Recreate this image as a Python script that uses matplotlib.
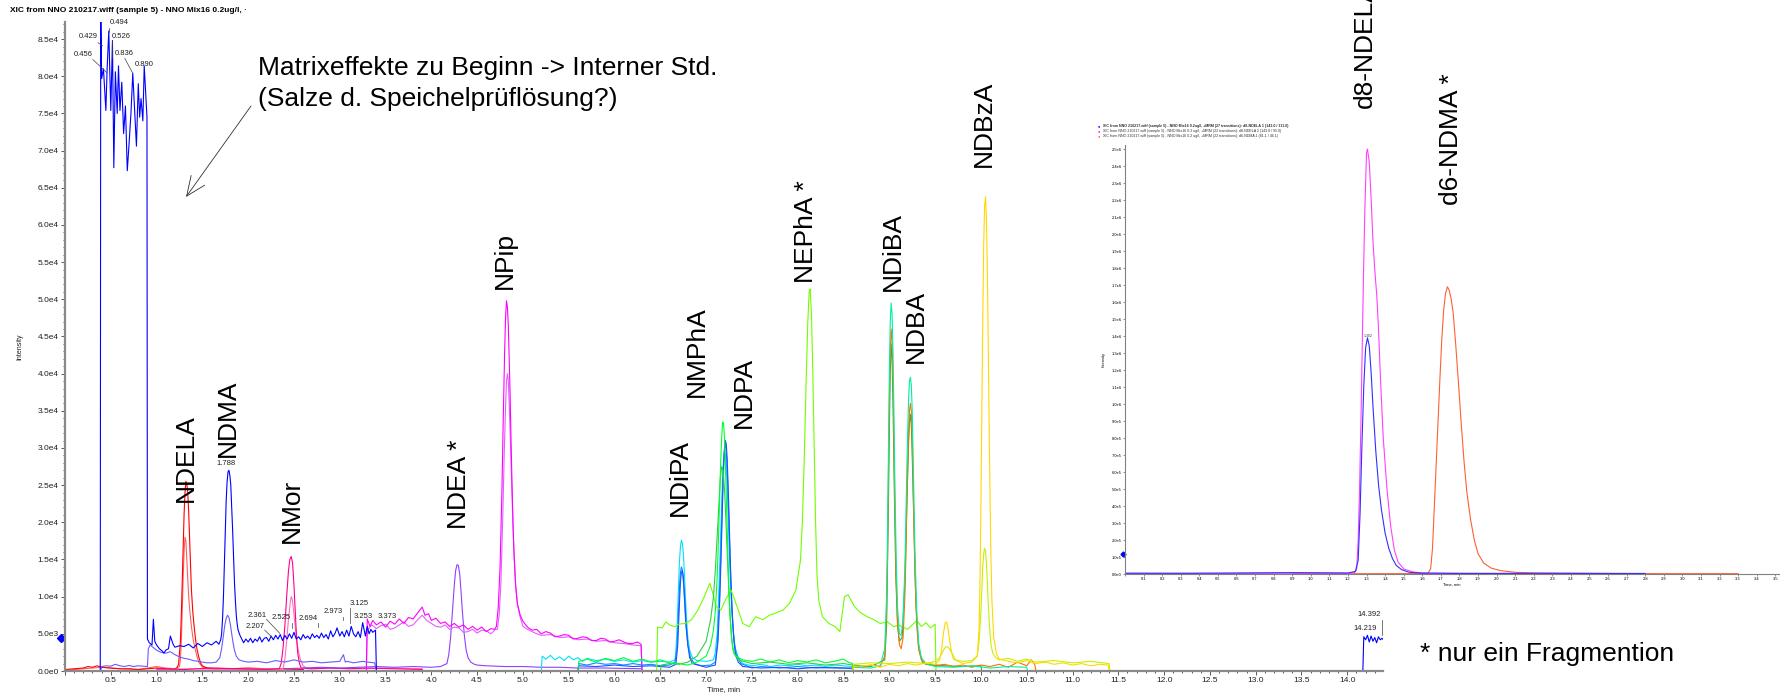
import matplotlib.pyplot as plt
import numpy as np
from matplotlib.ticker import MultipleLocator, FuncFormatter

W, H = 1789, 698
plt.rcParams['font.family'] = ['Liberation Sans', 'DejaVu Sans']

# ---- main chromatogram traces (time [min], intensity [cps]) ----
t_blue = [0.0, 0.385, 0.39, 0.40, 0.42, 0.446, 0.46, 0.478, 0.50, 0.518, 0.533, 0.55, 0.57,
          0.584, 0.60, 0.62, 0.64, 0.66, 0.68, 0.70, 0.72, 0.74, 0.76, 0.78, 0.80, 0.815,
          0.83, 0.85, 0.865, 0.88, 0.895, 0.90, 0.92, 0.95, 0.965, 0.98, 1.00, 1.03, 1.06,
          1.08, 1.10, 1.13, 1.15, 1.18, 1.20, 1.25, 1.30, 1.35, 1.40, 1.45, 1.50, 1.55,
          1.60, 1.65, 1.68, 1.70, 1.71, 1.72, 1.73, 1.74, 1.75, 1.76, 1.77, 1.78, 1.79, 1.80,
          1.81, 1.82, 1.83, 1.84, 1.85, 1.86, 1.87, 1.88, 1.89, 1.91, 1.93,
          1.95, 1.975, 2.0, 2.025, 2.05, 2.075, 2.1, 2.125, 2.15, 2.175, 2.2, 2.225,
          2.25, 2.275, 2.3, 2.325, 2.35, 2.375, 2.4, 2.425, 2.45, 2.475, 2.5, 2.525, 2.55,
          2.575, 2.6, 2.625, 2.65, 2.675, 2.7, 2.725, 2.75, 2.775, 2.8, 2.825, 2.85, 2.875,
          2.9, 2.925, 2.95, 2.97, 3.0, 3.025, 3.05, 3.075, 3.1, 3.125, 3.15, 3.175, 3.2,
          3.225, 3.25, 3.28, 3.3, 3.32, 3.34, 3.36, 3.39, 3.40, 14.17, 14.18, 14.2, 14.22,
          14.24, 14.26, 14.28, 14.3, 14.32, 14.34, 14.36, 14.38, 14.40]
i_blue = [0, 0, 90000, 79700, 81000, 75400, 81000, 86100, 75400, 84800, 67700, 80600, 75000,
          81400, 75400, 79200, 72300, 76000, 67300, 71000, 75000, 80400, 75400, 70600, 79000,
          74500, 77000, 74000, 81400, 78000, 74500, 4300, 3800, 3500, 6950, 4000, 3500, 3000,
          2700, 2400, 2800, 3000, 4700, 3600, 3200, 3400, 3300, 3600, 3100, 3700, 3300, 3800,
          3500, 4000, 3600, 4200, 5000, 7000, 10000, 14500, 19000, 23000, 25500, 26800, 27000, 26300,
          25000, 22000, 19000, 15500, 12000, 9500, 7500, 6300, 5500, 4800, 4300,
          3800, 4300, 3900, 4400, 3800, 4300, 4000, 4600, 3900, 4400, 4500, 4000,
          4700, 4200, 4800, 4300, 4900, 4100, 4800, 4300, 5000, 4400, 5200, 4300, 4600,
          4200, 4900, 4400, 4700, 4300, 5000, 4500, 4800, 4400, 5100, 4500, 4900, 4300,
          5400, 4600, 5100, 5800, 4700, 5300, 4600, 5500, 4700, 6000, 5000, 4600, 5300,
          4500, 6500, 4700, 6000, 5000, 5600, 5200, 5500, 0, 0, 4600, 4200, 4800,
          3900, 4700, 4000, 4500, 3800, 4600, 4200, 4400, 4100]

t_violet = [0.0, 0.39, 0.40, 0.45, 0.5, 0.55, 0.6, 0.65, 0.7, 0.75, 0.8, 0.85, 0.9, 0.91, 0.93,
            0.96, 1.0, 1.05, 1.1, 1.15, 1.2, 1.25, 1.3, 1.35, 1.4, 1.45, 1.5, 1.55, 1.6, 1.65,
            1.69, 1.71, 1.73, 1.745, 1.76, 1.775, 1.79, 1.805, 1.82, 1.835, 1.85, 1.87, 1.9, 1.95,
            2.0, 2.1, 2.2, 2.3, 2.4, 2.5, 2.6, 2.7, 2.8, 2.9, 3.0, 3.04, 3.06, 3.08, 3.15, 3.25,
            3.3, 3.38, 3.40]
i_violet = [0, 0, 600, 700, 650, 900, 700, 600, 750, 600, 700, 650, 600, 3000, 3500,
            3200, 2800, 2500, 2400, 2600, 2200, 1900, 1700, 1600, 1400, 1300, 1200, 1100, 1100, 1200,
            1800, 3000, 4800, 6200, 7100, 7500, 7200, 6300, 5000, 3800, 2800, 2000, 1500, 1300,
            1200, 1300, 1100, 1400, 1200, 1500, 1200, 1300, 1100, 1200, 1300, 2200, 1200, 1300, 1100, 1300,
            1200, 1100, 0]

t_red = [0.0, 0.1, 0.2, 0.25, 0.3, 0.35, 0.4, 0.5, 0.6, 0.7, 0.8, 0.9, 1.0, 1.1, 1.2, 1.22,
         1.24, 1.26, 1.27, 1.28, 1.29, 1.30, 1.31, 1.32, 1.33, 1.34, 1.35, 1.36, 1.37, 1.38,
         1.395, 1.41, 1.425, 1.44, 1.46, 1.48, 1.5, 1.55, 1.6, 1.8, 2.0, 2.2, 2.4, 2.6]
i_red = [200, 300, 400, 600, 500, 700, 500, 400, 300, 300, 200, 300, 400, 300, 300, 400,
         900, 4000, 7500, 12000, 16500, 21000, 24000, 25500, 25200, 24000, 21500, 18000, 14500, 11000,
         8000, 6000, 4300, 3000, 1900, 1100, 700, 400, 300, 300, 400, 300, 300, 200]

t_red2 = [0.0, 0.2, 0.4, 0.6, 0.8, 1.0, 1.1, 1.2, 1.25, 1.26, 1.27, 1.28, 1.29, 1.30, 1.31,
          1.32, 1.33, 1.34, 1.35, 1.365, 1.38, 1.40, 1.42, 1.44, 1.46, 1.5, 1.6, 1.8, 2.0, 2.3, 2.6]
i_red2 = [100, 300, 500, 300, 200, 600, 400, 300, 600, 1500, 4000, 8000, 12500, 16000, 18000,
          17500, 15000, 12500, 10000, 7800, 6000, 4200, 3000, 2000, 1200, 500, 400, 300, 200, 300, 200]

t_nmor = [1.0, 1.3, 1.6, 1.9, 2.2, 2.34, 2.36, 2.38, 2.40, 2.42, 2.44, 2.455, 2.47, 2.485,
          2.50, 2.51, 2.52, 2.53, 2.54, 2.56, 2.58, 2.7, 2.9, 3.1, 3.3, 3.6, 3.9]
i_nmor = [300, 200, 400, 300, 200, 300, 1000, 3000, 6000, 10000, 13500, 15000, 15400, 14500,
          11500, 9000, 6500, 4200, 2500, 1000, 400, 300, 400, 300, 400, 300, 200]

t_nmor2 = [1.0, 1.4, 1.8, 2.2, 2.38, 2.40, 2.42, 2.44, 2.46, 2.47, 2.48, 2.49, 2.50, 2.52, 2.54,
           2.56, 2.58, 2.60, 2.65, 2.9, 3.2, 3.5, 3.9]
i_nmor2 = [200, 300, 200, 300, 300, 1500, 4000, 7000, 9300, 10000, 9700, 8800, 7600, 5200, 3300,
           2000, 1200, 700, 300, 400, 300, 400, 300]

t_ndea = [2.4, 2.6, 2.8, 3.0, 3.2, 3.4, 3.6, 3.8, 4.0, 4.1, 4.17, 4.19, 4.21, 4.23, 4.25,
          4.265, 4.28, 4.295, 4.31, 4.325, 4.34, 4.36, 4.38, 4.40, 4.43, 4.47, 4.5, 4.6, 4.8,
          5.0, 5.2, 5.4, 5.6, 5.9, 6.3]
i_ndea = [300, 400, 500, 400, 500, 600, 500, 600, 500, 600, 1000, 2200, 4500, 8000, 11500,
          13500, 14300, 14200, 13000, 10500, 7800, 4800, 2800, 1800, 1200, 900, 800, 700, 600,
          600, 500, 500, 400, 400, 300]

t_npip = [3.29, 3.30, 3.33, 3.36, 3.40, 3.45, 3.5, 3.55, 3.6, 3.65, 3.7, 3.75, 3.8, 3.85, 3.9,
          3.93, 3.97, 4.0, 4.05, 4.1, 4.15, 4.2, 4.25, 4.3, 4.35, 4.4, 4.45, 4.5, 4.55, 4.6,
          4.65, 4.69, 4.71, 4.73, 4.75, 4.77, 4.785, 4.80, 4.81, 4.82, 4.83, 4.84, 4.85, 4.86,
          4.87, 4.88, 4.89, 4.90, 4.92, 4.94, 4.97, 5.0, 5.03, 5.06, 5.1, 5.15, 5.2, 5.25,
          5.3, 5.35, 5.4, 5.45, 5.5, 5.55, 5.6, 5.65, 5.7, 5.75, 5.8, 5.85, 5.9, 5.95, 6.0,
          6.05, 6.1, 6.15, 6.2, 6.25, 6.29, 6.30]
i_npip = [0, 7000, 6000, 6800, 6200, 6600, 5900, 6700, 6300, 7000, 6400, 7200, 7000, 7800, 8600,
          7500, 7700, 6800, 7100, 6400, 6600, 6000, 6400, 5900, 6200, 5600, 6000, 5500, 5900, 5300,
          5700, 5600, 6000, 8500, 14000, 24000, 34000, 43000, 47500, 49800, 49000, 46500, 42000, 37000,
          31000, 25500, 20500, 16500, 11500, 9000, 7500, 6700, 6200, 5800, 5500, 5600, 5000, 5300,
          5100, 4600, 4700, 4900, 4800, 4300, 4400, 4600, 4500, 4100, 4100, 4400, 4300, 3900, 4000,
          4200, 3900, 3700, 3700, 3900, 3600, 0]

t_npip2 = [3.29, 3.30, 3.35, 3.4, 3.45, 3.5, 3.55, 3.6, 3.65, 3.7, 3.75, 3.8, 3.85, 3.9, 3.95,
           4.0, 4.05, 4.1, 4.15, 4.2, 4.25, 4.3, 4.35, 4.4, 4.45, 4.5, 4.55, 4.6, 4.65, 4.7,
           4.72, 4.74, 4.76, 4.78, 4.795, 4.81, 4.82, 4.83, 4.84, 4.85, 4.86, 4.875, 4.89, 4.905,
           4.92, 4.94, 4.97, 5.0, 5.05, 5.1, 5.15, 5.2, 5.3, 5.4, 5.5, 5.6, 5.7, 5.8, 5.9, 6.0,
           6.1, 6.2, 6.29, 6.30]
i_npip2 = [0, 5500, 6200, 5700, 6100, 6300, 5600, 5800, 6200, 6600, 6000, 6200, 6900, 7500, 6800,
           6400, 6000, 5900, 6200, 5600, 5900, 5800, 5200, 5300, 5600, 5100, 5500, 5400, 5000, 5600,
           5600, 7500, 12000, 21000, 29000, 35500, 39000, 40000, 39000, 36000, 32000, 26000, 20000, 15000,
           11500, 9000, 7200, 6000, 5600, 5300, 5000, 4800, 4900, 4500, 4600, 4200, 4300, 4000, 4100,
           3800, 3700, 3500, 3400, 0]

t_cyan = [5.20, 5.21, 5.25, 5.3, 5.35, 5.4, 5.45, 5.5, 5.55, 5.6, 5.65, 5.7, 5.8, 5.9, 6.0, 6.1,
          6.2, 6.3, 6.4, 6.5, 6.6, 6.66, 6.67, 6.68, 6.69, 6.70, 6.71, 6.72, 6.73, 6.74, 6.75,
          6.76, 6.77, 6.78, 6.79, 6.80, 6.82, 6.85, 6.9, 7.0, 7.08, 7.10, 7.12, 7.13, 7.14, 7.15,
          7.16, 7.17, 7.18, 7.19, 7.20, 7.21, 7.22, 7.23, 7.24, 7.25, 7.26, 7.27, 7.28, 7.30,
          7.32, 7.35, 7.4, 7.5, 7.6, 7.7, 7.8, 7.9, 8.0, 8.1, 8.2, 8.3, 8.4, 8.5, 8.6, 8.61]
i_cyan = [0, 2000, 1600, 2100, 1500, 1900, 1400, 2000, 1500, 1800, 1300, 1700, 1400, 1600, 1300, 1500,
          1200, 1400, 1200, 1300, 1200, 1500, 2800, 5000, 8500, 12000, 15000, 16800, 17600, 17200, 16000,
          13800, 11000, 8500, 6200, 4500, 2800, 1800, 1400, 1300, 1500, 2500, 5000, 8000, 11500, 15000,
          19000, 23000, 26000, 28500, 29500, 29200, 27500, 24500, 21000, 17000, 13500, 10500, 8000, 4800,
          3000, 1800, 1000, 700, 900, 600, 800, 700, 900, 700, 800, 600, 800, 700, 600, 0]

t_azure = [5.60, 5.61, 5.7, 5.8, 5.9, 6.0, 6.1, 6.2, 6.3, 6.4, 6.5, 6.6, 6.66, 6.68, 6.69,
           6.70, 6.71, 6.72, 6.73, 6.74, 6.75, 6.76, 6.77, 6.78, 6.80, 6.83, 6.87, 6.95, 7.05,
           7.1, 7.12, 7.14, 7.15, 7.16, 7.17, 7.18, 7.19, 7.20, 7.21, 7.22, 7.23, 7.24, 7.25,
           7.26, 7.27, 7.29, 7.31, 7.33, 7.38, 7.5, 7.6, 7.8, 8.0, 8.2, 8.4, 8.6, 8.61]
i_azure = [0, 1000, 800, 1100, 900, 1000, 800, 1000, 800, 900, 700, 800, 1200, 3000, 5500,
           8500, 11500, 13300, 14000, 13600, 12300, 10300, 8000, 6000, 3500, 1800, 1000, 700, 800,
           1200, 3500, 8000, 11500, 15500, 20000, 24500, 28000, 30000, 30500, 29500, 27000, 23500, 19500,
           15500, 12000, 6500, 3500, 2200, 1000, 400, 600, 400, 600, 400, 500, 300, 0]

t_blue2 = [5.60, 5.61, 5.8, 6.0, 6.2, 6.4, 6.6, 6.67, 6.69, 6.70, 6.71, 6.72, 6.73, 6.74, 6.75,
           6.76, 6.77, 6.78, 6.80, 6.82, 6.85, 7.0, 7.1, 7.13, 7.15, 7.16, 7.17, 7.18, 7.19,
           7.20, 7.21, 7.22, 7.23, 7.24, 7.25, 7.26, 7.27, 7.28, 7.30, 7.32, 7.35, 7.4, 7.6,
           7.8, 8.0, 8.2, 8.4, 8.6, 8.61]
i_blue2 = [0, 700, 600, 800, 600, 700, 500, 900, 3500, 6500, 9500, 12000, 13300, 13500, 12800,
           11000, 8800, 6500, 3500, 1800, 1000, 500, 800, 4000, 10000, 14000, 18500, 23000, 27000,
           29500, 31000, 30500, 28500, 25000, 21000, 16500, 12500, 9000, 4500, 2200, 1200, 600, 400,
           500, 300, 500, 400, 400, 0]

t_green = [5.60, 5.61, 5.7, 5.8, 5.9, 6.0, 6.1, 6.2, 6.3, 6.4, 6.5, 6.6, 6.7, 6.8, 6.9, 7.0,
           7.05, 7.08, 7.10, 7.12, 7.13, 7.14, 7.15, 7.16, 7.17, 7.18, 7.19, 7.20, 7.21, 7.22,
           7.23, 7.24, 7.25, 7.27, 7.29, 7.32, 7.4, 7.5, 7.6, 7.7, 7.8, 7.9, 8.0, 8.1, 8.2,
           8.3, 8.4, 8.5, 8.55, 8.6, 8.61]
i_green = [0, 1300, 1600, 1200, 1700, 1400, 1800, 1300, 1600, 1200, 1500, 1100, 1000, 800, 1200, 2000,
           3500, 5500, 8000, 12500, 16000, 20000, 24500, 28500, 31500, 33500, 33300, 31500, 28000, 23500,
           19000, 14500, 10500, 5500, 3000, 2000, 1500, 1300, 1600, 1200, 1500, 1100, 1400, 1200, 1500,
           1100, 1300, 1600, 1200, 1000, 0]

t_green2 = [6.50, 6.51, 6.6, 6.7, 6.8, 6.9, 7.0, 7.05, 7.08, 7.10, 7.12, 7.14, 7.155, 7.17,
            7.185, 7.20, 7.215, 7.23, 7.245, 7.26, 7.28, 7.3, 7.35, 7.5, 7.7, 7.9, 8.1, 8.3,
            8.5, 8.6, 8.61]
i_green2 = [0, 800, 1000, 900, 1200, 2000, 4000, 7000, 10000, 13500, 18000, 22500, 26000, 27500,
            27000, 24500, 20500, 16000, 11500, 7500, 4200, 2500, 1500, 1000, 1200, 900, 1100, 800,
            1000, 800, 0]

t_nepha = [6.46, 6.47, 6.52, 6.56, 6.6, 6.66, 6.7, 6.77, 6.84, 6.91, 6.98, 7.04, 7.07, 7.11,
           7.16, 7.21, 7.27, 7.3, 7.35, 7.4, 7.47, 7.54, 7.62, 7.69, 7.76, 7.84, 7.91, 7.98,
           8.03, 8.05, 8.07, 8.09, 8.11, 8.125, 8.135, 8.15, 8.165, 8.18, 8.195, 8.21, 8.23,
           8.27, 8.34, 8.41, 8.46, 8.51, 8.55, 8.62, 8.69, 8.76, 8.83, 8.9, 8.98, 9.05, 9.1,
           9.2, 9.3, 9.35, 9.4, 9.45, 9.5, 9.51]
i_nepha = [0, 5900, 5800, 6600, 6200, 5950, 6300, 6400, 6900, 8200, 10000, 11800, 10600, 8650,
           8200, 9540, 10900, 10000, 8200, 6400, 5950, 7300, 6900, 7500, 7800, 8200, 9100, 10900,
           14900, 20000, 28000, 38000, 47000, 51000, 51400, 48000, 40000, 30000, 20000, 13000, 9500,
           7300, 6400, 5950, 5300, 10000, 10250, 8650, 7800, 7300, 6900, 6400, 6600, 5950, 6200,
           5600, 6800, 6000, 6500, 5800, 6300, 0]

t_orange = [8.60, 8.61, 8.7, 8.8, 8.9, 8.95, 8.97, 8.98, 8.99, 9.0, 9.01, 9.02, 9.03, 9.04,
            9.05, 9.06, 9.075, 9.09, 9.11, 9.13, 9.15, 9.17, 9.18, 9.19, 9.20, 9.21, 9.22, 9.23,
            9.24, 9.25, 9.26, 9.27, 9.28, 9.30, 9.32, 9.35, 9.4, 9.5, 9.6, 9.7, 9.8, 9.9, 10.0,
            10.1, 10.2, 10.3, 10.4, 10.5, 10.55, 10.59, 10.6]
i_orange = [0, 700, 500, 800, 600, 2000, 8000, 15000, 26000, 36000, 43000, 46000, 44500, 39000,
            31000, 22000, 12000, 6500, 3500, 3000, 4500, 10000, 15000, 21000, 27000, 32000, 35000, 36000,
            35000, 31000, 25000, 18500, 13000, 6000, 3000, 1500, 900, 700, 900, 600, 800, 500, 800,
            600, 900, 500, 1200, 700, 1500, 800, 0]

t_teal = [8.60, 8.61, 8.8, 8.9, 8.95, 8.97, 8.98, 8.99, 9.0, 9.01, 9.02, 9.03, 9.04, 9.05,
          9.06, 9.075, 9.09, 9.11, 9.13, 9.15, 9.17, 9.18, 9.19, 9.20, 9.21, 9.22, 9.23, 9.24,
          9.25, 9.26, 9.27, 9.28, 9.30, 9.32, 9.35, 9.4, 9.5, 9.7, 9.9, 10.1, 10.3, 10.5, 10.51]
i_teal = [0, 500, 400, 700, 3000, 10000, 18000, 29000, 40000, 47000, 49500, 48000, 43000, 35000,
          26000, 15000, 8500, 5000, 4800, 7000, 14000, 20000, 26500, 32000, 36500, 39000, 39500, 38500,
          35000, 29000, 22500, 16000, 8000, 3800, 1800, 1000, 600, 500, 700, 400, 600, 500, 0]

t_dkgreen = [8.60, 8.61, 8.8, 8.95, 8.97, 8.99, 9.0, 9.01, 9.02, 9.03, 9.04, 9.055, 9.07, 9.09,
             9.11, 9.14, 9.17, 9.19, 9.21, 9.22, 9.23, 9.24, 9.25, 9.27, 9.29, 9.32, 9.36, 9.4,
             9.6, 9.8, 10.0, 10.01]
i_dkgreen = [0, 800, 600, 1500, 6000, 22000, 32000, 40000, 44000, 42000, 36000, 24000, 13000, 6000,
             4000, 4500, 12000, 22000, 30500, 33500, 34500, 33000, 29000, 19000, 9000, 3000, 1200, 900,
             700, 600, 700, 0]

t_yellow = [8.60, 8.61, 8.8, 8.9, 9.0, 9.1, 9.2, 9.3, 9.4, 9.5, 9.55, 9.57, 9.59, 9.61, 9.625,
            9.64, 9.66, 9.68, 9.7, 9.8, 9.9, 9.96, 9.98, 9.99, 10.0, 10.01, 10.02, 10.03, 10.04,
            10.05, 10.06, 10.07, 10.08, 10.09, 10.10, 10.11, 10.12, 10.14, 10.17, 10.2, 10.3,
            10.4, 10.5, 10.6, 10.7, 10.8, 10.9, 11.0, 11.1, 11.2, 11.3, 11.39, 11.4]
i_yellow = [0, 600, 800, 500, 900, 700, 1000, 800, 1100, 900, 1500, 2800, 5000, 6500, 6600,
            5800, 4000, 2500, 1600, 1000, 1200, 2000, 5500, 12000, 22000, 35000, 47000, 57000, 62500,
            63800, 61000, 54000, 44000, 33000, 23000, 15000, 9500, 4500, 2300, 1600, 1300,
            1100, 1400, 1000, 1200, 900, 1100, 800, 1000, 700, 900, 800, 0]

t_ygreen = [8.60, 8.61, 8.8, 9.0, 9.2, 9.4, 9.5, 9.55, 9.58, 9.6, 9.62, 9.64, 9.66, 9.68, 9.72,
            9.8, 9.9, 9.96, 9.98, 10.0, 10.01, 10.02, 10.03, 10.04, 10.05, 10.06, 10.07, 10.08,
            10.095, 10.11, 10.13, 10.16, 10.2, 10.3, 10.4, 10.5, 10.6, 10.8, 11.0, 11.2, 11.4,
            11.41]
i_ygreen = [0, 900, 1100, 1000, 1200, 1000, 1300, 1800, 2500, 3000, 3300, 3200, 2900, 2500, 1500,
            1300, 1400, 2000, 4000, 8000, 11000, 14000, 15800, 16500, 16200, 14500, 12000, 9000,
            5800, 3500, 2400, 1800, 1500, 1700, 1300, 1600, 1200, 1400, 1100, 1300, 1000, 0]

main_traces = [
    (t_red2, i_red2, '#ff6060'), (t_red, i_red, '#ff0000'),
    (t_nmor2, i_nmor2, '#ff70b8'), (t_nmor, i_nmor, '#ff0090'),
    (t_ndea, i_ndea, '#9040ff'),
    (t_npip2, i_npip2, '#e060ff'), (t_npip, i_npip, '#ff00ff'),
    (t_cyan, i_cyan, '#00e0ff'), (t_azure, i_azure, '#0090ff'), (t_blue2, i_blue2, '#2050ff'),
    (t_nepha, i_nepha, '#70ff00'), (t_green2, i_green2, '#30d040'), (t_green, i_green, '#00ff30'),
    (t_dkgreen, i_dkgreen, '#20b040'), (t_orange, i_orange, '#ff7000'), (t_teal, i_teal, '#00f0a0'),
    (t_ygreen, i_ygreen, '#c8f000'), (t_yellow, i_yellow, '#ffd800'),
    (t_violet, i_violet, '#6a5cff'), (t_blue, i_blue, '#0000ff'),
]

# peak labels (text, time, intensity)
peak_labels = [('0.494', 0.587, 87230), ('0.429', 0.249, 85340), ('0.526', 0.61, 85340),
               ('0.456', 0.194, 82920), ('0.836', 0.642, 83060), ('0.890', 0.86, 81580),
               ('1.788', 1.755, 27960), ('2.361', 2.096, 7530), ('2.207', 2.073, 6050),
               ('2.525', 2.356, 7260), ('2.694', 2.66, 7120), ('2.973', 2.924, 8060),
               ('3.125', 3.207, 9140), ('3.253', 3.251, 7390), ('3.373', 3.513, 7390),
               ('14.392', 14.234, 7660), ('14.219', 14.19, 5780)]
leaders = [((0.36, 0.41), (84500, 84100)), ((0.304, 0.456), (82250, 80500)),
           ((0.653, 0.74), (82400, 80400)), ((0.478, 0.478), (86550, 86000)),
           ((0.514, 0.514), (84900, 82400)), ((2.20, 2.345), (6950, 5070)),
           ((2.18, 2.255), (5500, 4610)), ((2.473, 2.473), (6400, 5740)),
           ((2.763, 2.763), (6490, 5950)), ((3.036, 3.036), (7300, 6850)),
           ((3.117, 3.117), (8430, 6410)), ((14.38, 14.38), (6850, 4840))]

# compound names: (text, x px, bottom y px)
compounds = [('NDELA', 186, 502), ('NDMA', 228, 457), ('NMor', 292, 543), ('NDEA *', 459, 529),
             ('NPip', 505, 289), ('NDiPA', 680, 516), ('NMPhA', 697, 397), ('NDPA', 744, 428),
             ('NEPhA *', 806, 283), ('NDiBA', 893, 291), ('NDBA', 916, 363), ('NDBzA', 984, 167),
             ('d8-NDELA', 1365, 108), ('d6-NDMA *', 1451, 205)]

# ---- inset (internal standards) ----
t_d8a = [0, 0.3, 0.6, 0.9, 1.2, 1.24, 1.255, 1.265, 1.275, 1.285, 1.295, 1.305, 1.315, 1.325,
         1.335, 1.35, 1.365, 1.38, 1.40, 1.42, 1.44, 1.46, 1.49, 1.53, 1.6, 1.8, 2.2, 2.6, 2.8]
i_d8a = [5000, 4000, 6000, 8000, 6000, 15000, 80000, 350000, 750000, 1100000, 1330000, 1390000,
         1340000, 1180000, 980000, 720000, 520000, 380000, 240000, 150000, 90000, 50000, 25000,
         10000, 5000, 3000, 4000, 3000, 3000]
t_d8b = [0, 0.3, 0.6, 0.9, 1.2, 1.235, 1.247, 1.255, 1.262, 1.27, 1.277, 1.284, 1.291, 1.30,
         1.305, 1.315, 1.325, 1.335, 1.345, 1.355, 1.364, 1.375, 1.39, 1.41, 1.43, 1.45, 1.47,
         1.50, 1.55, 1.6, 2.0, 2.4, 2.8]
i_d8b = [3000, 4000, 3000, 5000, 4000, 8000, 27000, 200000, 480000, 900000, 1350000, 1780000,
         2150000, 2480000, 2500000, 2420000, 2200000, 1950000, 1780000, 1640000, 1450000, 1150000,
         800000, 500000, 280000, 140000, 70000, 30000, 12000, 6000, 3000, 4000, 3000]
t_d6 = [0.9, 1.2, 1.5, 1.6, 1.63, 1.645, 1.655, 1.665, 1.675, 1.685, 1.695, 1.705, 1.715, 1.725,
        1.735, 1.745, 1.755, 1.766, 1.78, 1.795, 1.81, 1.825, 1.84, 1.86, 1.88, 1.90, 1.93, 1.97,
        2.02, 2.1, 2.2, 2.5, 2.9, 3.3]
i_d6 = [2000, 1500, 2000, 3000, 5000, 30000, 150000, 400000, 650000, 900000, 1150000, 1380000,
        1550000, 1650000, 1690000, 1670000, 1620000, 1540000, 1350000, 1120000, 880000, 660000,
        480000, 320000, 200000, 120000, 65000, 35000, 20000, 10000, 6000, 3000, 2000, 2000]
inset_legend = [
    ('#0000ff', 'XIC from NNO 210217.wiff (sample 5) - NNO Mix16 0.2ug/l, +MRM (27 transitions): d8-NDELA 1 (143.0 / 111.0)'),
    ('#ff00ff', 'XIC from NNO 210217.wiff (sample 5) - NNO Mix16 0.2 ug/l, +MRM (22 transitions): d8-NDELA 2 (143.0 / 95.0)'),
    ('#ff6030', 'XIC from NNO 210217.wiff (sample 5) - NNO Mix16 0.2 ug/l, +MRM (22 transitions): d6-NDMA 1 (81.1 / 46.1)'),
]


def fx(x):
    return x / W


def fy(y):
    return 1 - y / H


def sci(v, pos):
    if abs(v) < 1e-9:
        return '0.0e0'
    e = int(np.floor(np.log10(abs(v)) + 1e-9))
    return f'{v / 10 ** e:.1f}e{e}'


fig = plt.figure(figsize=(W / 100, H / 100), dpi=100)
fig.patch.set_facecolor('white')

# main axes
ax = fig.add_axes([fx(65), fy(671), (1383 - 65) / W, (671 - 22) / H])
for t, i, c in main_traces:
    ax.plot(t, i, color=c, lw=0.8)
ax.set_xlim(0, 14.39)
ax.set_ylim(0, 87300)
for s in ['top', 'right']:
    ax.spines[s].set_visible(False)
for s in ['left', 'bottom']:
    ax.spines[s].set_color('#8a8a8a')
    ax.spines[s].set_linewidth(1.6)
ax.xaxis.set_major_locator(MultipleLocator(0.5))
ax.xaxis.set_minor_locator(MultipleLocator(0.1))
ax.yaxis.set_major_locator(MultipleLocator(5000))
ax.yaxis.set_minor_locator(MultipleLocator(1000))
ax.xaxis.set_major_formatter(FuncFormatter(lambda v, p: '' if v < 0.01 else f'{v:.1f}'))
ax.yaxis.set_major_formatter(FuncFormatter(sci))
ax.tick_params(which='major', length=3, width=0.6, color='#404040', labelsize=6,
               labelcolor='#202020', pad=1.5)
ax.tick_params(which='minor', length=1.5, width=0.6, color='#404040')
ax.set_xlabel('Time, min', fontsize=5.5, labelpad=1, color='#202020')
ax.set_ylabel('Intensity', fontsize=5, labelpad=10, color='#202020')
ax.plot([-0.04], [4400], marker='D', ms=4, color='#0000ff', clip_on=False)

for txt, t, v in peak_labels:
    ax.text(t, v, txt, fontsize=5.5, ha='center', va='center', color='#202020', clip_on=False)
for xs, ys in leaders:
    ax.plot(xs, ys, color='#404040', lw=0.5, clip_on=False)

fig.text(fx(10), fy(10), 'XIC from NNO 210217.wiff (sample 5) - NNO Mix16 0.2ug/l, \u00b7',
         fontsize=6, fontweight='bold', ha='left', va='center')

# inset axes
ax2 = fig.add_axes([fx(1125), fy(574), (1779 - 1125) / W, (574 - 145) / H])
ax2.plot(t_d6, i_d6, color='#ff6030', lw=0.8)
ax2.plot(t_d8b, i_d8b, color='#ff40ff', lw=0.8)
ax2.plot(t_d8a, i_d8a, color='#3030ff', lw=0.8)
ax2.set_xlim(0, 3.52)
ax2.set_ylim(0, 2.524e6)
for s in ['top', 'right']:
    ax2.spines[s].set_visible(False)
for s in ['left', 'bottom']:
    ax2.spines[s].set_color('#808080')
    ax2.spines[s].set_linewidth(0.8)
ax2.xaxis.set_major_locator(MultipleLocator(0.1))
ax2.yaxis.set_major_locator(MultipleLocator(1e5))
ax2.xaxis.set_major_formatter(FuncFormatter(lambda v, p: '' if v < 0.01 else f'{v:.1f}'))
ax2.yaxis.set_major_formatter(FuncFormatter(sci))
ax2.tick_params(length=1.5, width=0.4, color='#404040', labelsize=2.9, pad=1)
ax2.set_xlabel('Time, min', fontsize=2.9, labelpad=1)
ax2.set_ylabel('Intensity', fontsize=2.9, labelpad=4)
ax2.text(1.308, 1.39e6, '1.302', fontsize=2.6, ha='center', va='bottom', color='#404040')
ax2.plot([-0.01], [1.2e5], marker='D', ms=2.5, color='#0000ff', clip_on=False)
for k, (c, txt) in enumerate(inset_legend):
    yy = 126 + k * 5
    fig.text(fx(1099), fy(yy), '\u25cf', fontsize=2.8, color=c, ha='center', va='center')
    fig.text(fx(1103), fy(yy), txt, fontsize=2.6, ha='left', va='center',
             fontweight='bold' if k == 0 else 'normal', color='#303030')

# big annotation texts
for txt, x, y in compounds:
    fig.text(fx(x), fy(y), txt, rotation=90, fontsize=19, ha='center', va='bottom')

fig.text(fx(258), fy(75), 'Matrixeffekte zu Beginn -> Interner Std.', fontsize=19,
         ha='left', va='baseline')
fig.text(fx(258), fy(106), '(Salze d. Speichelprüflösung?)', fontsize=19,
         ha='left', va='baseline')
fig.text(fx(1420), fy(661), '* nur ein Fragmention', fontsize=19, ha='left', va='baseline')
ax.annotate('', xy=(fx(186), fy(197)), xycoords='figure fraction',
            xytext=(fx(251), fy(106)), textcoords='figure fraction',
            arrowprops=dict(arrowstyle='->,head_length=0.7,head_width=0.3', lw=0.6,
                            color='#303030', mutation_scale=20, shrinkA=0, shrinkB=0))

fig.savefig('out.png', dpi=100)
